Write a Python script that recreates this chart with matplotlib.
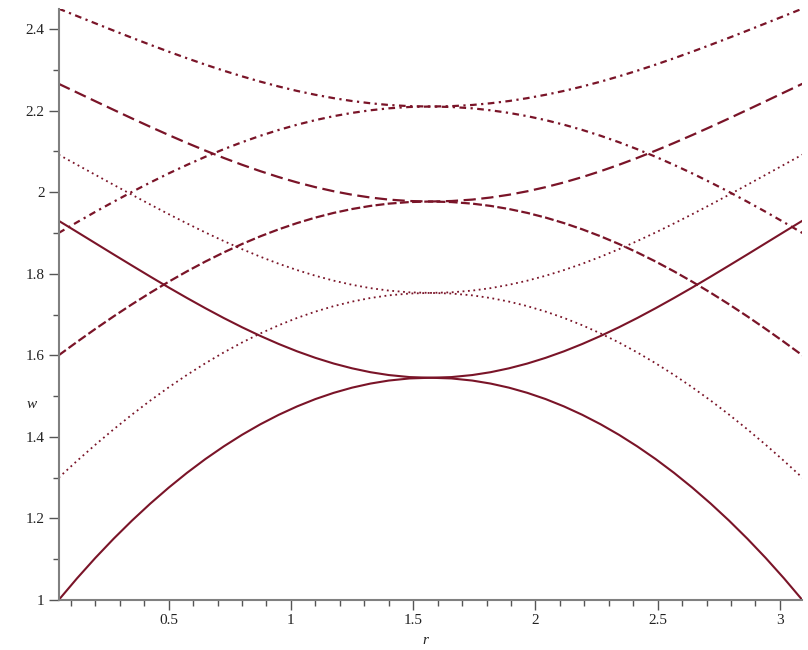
import matplotlib.pyplot as plt
from matplotlib.ticker import MultipleLocator

# valores de r (simetricos em torno de pi/2)
r = [0.05, 0.125, 0.2, 0.275, 0.35, 0.425, 0.5, 0.575, 0.65, 0.725, 0.8,
     0.875, 0.95, 1.025, 1.1, 1.175, 1.25, 1.325, 1.4, 1.4854, 1.5708,
     1.6562, 1.7416, 1.8166, 1.8916, 1.9666, 2.0416, 2.1166, 2.1916, 2.2666, 2.3416,
     2.4166, 2.4916, 2.5666, 2.6416, 2.7166, 2.7916, 2.8666, 2.9416, 3.0166, 3.0916]

# par 1 (continuo)
w1_baixo = [1.0000, 1.0531, 1.1032, 1.1504, 1.1948, 1.2365, 1.2755, 1.3119, 1.3456, 1.3766,
            1.4051, 1.4309, 1.4541, 1.4747, 1.4927, 1.5080, 1.5207, 1.5307, 1.5381, 1.5433,
            1.5450,
            1.5433, 1.5381, 1.5307, 1.5207, 1.5080, 1.4927, 1.4747, 1.4541, 1.4309, 1.4051,
            1.3766, 1.3456, 1.3119, 1.2755, 1.2365, 1.1948, 1.1504, 1.1032, 1.0531, 1.0000]
w1_cima = [1.9299, 1.9025, 1.8749, 1.8473, 1.8200, 1.7929, 1.7663, 1.7405, 1.7155, 1.6915,
           1.6688, 1.6475, 1.6278, 1.6098, 1.5938, 1.5798, 1.5681, 1.5586, 1.5516, 1.5466,
           1.5450,
           1.5466, 1.5516, 1.5586, 1.5681, 1.5798, 1.5938, 1.6098, 1.6278, 1.6475, 1.6688,
           1.6915, 1.7155, 1.7405, 1.7663, 1.7929, 1.8200, 1.8473, 1.8749, 1.9025, 1.9299]

# par 2 (pontilhado)
w2_baixo = [1.2999, 1.3411, 1.3807, 1.4186, 1.4547, 1.4891, 1.5215, 1.5520, 1.5805, 1.6070,
            1.6314, 1.6536, 1.6737, 1.6916, 1.7072, 1.7206, 1.7317, 1.7405, 1.7470, 1.7515,
            1.7530,
            1.7515, 1.7470, 1.7405, 1.7317, 1.7206, 1.7072, 1.6916, 1.6737, 1.6536, 1.6314,
            1.6070, 1.5805, 1.5520, 1.5215, 1.4891, 1.4547, 1.4186, 1.3807, 1.3411, 1.2999]
w2_cima = [2.0920, 2.0673, 2.0426, 2.0180, 1.9936, 1.9696, 1.9461, 1.9233, 1.9012, 1.8802,
           1.8603, 1.8417, 1.8245, 1.8090, 1.7951, 1.7830, 1.7729, 1.7647, 1.7587, 1.7544,
           1.7530,
           1.7544, 1.7587, 1.7647, 1.7729, 1.7830, 1.7951, 1.8090, 1.8245, 1.8417, 1.8603,
           1.8802, 1.9012, 1.9233, 1.9461, 1.9696, 1.9936, 2.0180, 2.0426, 2.0673, 2.0920]

# par 3 (tracejado)
w3_baixo = [1.6000, 1.6328, 1.6647, 1.6955, 1.7251, 1.7534, 1.7804, 1.8059, 1.8299, 1.8522,
            1.8729, 1.8918, 1.9089, 1.9242, 1.9377, 1.9492, 1.9587, 1.9663, 1.9719, 1.9758,
            1.9771,
            1.9758, 1.9719, 1.9663, 1.9587, 1.9492, 1.9377, 1.9242, 1.9089, 1.8918, 1.8729,
            1.8522, 1.8299, 1.8059, 1.7804, 1.7534, 1.7251, 1.6955, 1.6647, 1.6328, 1.6000]
w3_cima = [2.2657, 2.2444, 2.2230, 2.2018, 2.1808, 2.1602, 2.1401, 2.1206, 2.1019, 2.0840,
           2.0672, 2.0515, 2.0370, 2.0239, 2.0123, 2.0022, 1.9937, 1.9869, 1.9818, 1.9783,
           1.9771,
           1.9783, 1.9818, 1.9869, 1.9937, 2.0022, 2.0123, 2.0239, 2.0370, 2.0515, 2.0672,
           2.0840, 2.1019, 2.1206, 2.1401, 2.1602, 2.1808, 2.2018, 2.2230, 2.2444, 2.2657]

# par 4 (traco-ponto)
w4_baixo = [1.9000, 1.9262, 1.9518, 1.9766, 2.0007, 2.0238, 2.0460, 2.0669, 2.0868, 2.1053,
            2.1225, 2.1383, 2.1526, 2.1654, 2.1767, 2.1864, 2.1944, 2.2008, 2.2056, 2.2089,
            2.2100,
            2.2089, 2.2056, 2.2008, 2.1944, 2.1864, 2.1767, 2.1654, 2.1526, 2.1383, 2.1225,
            2.1053, 2.0868, 2.0669, 2.0460, 2.0238, 2.0007, 1.9766, 1.9518, 1.9262, 1.9000]
w4_cima = [2.4500, 2.4319, 2.4140, 2.3961, 2.3785, 2.3613, 2.3445, 2.3283, 2.3127, 2.2979,
           2.2840, 2.2710, 2.2591, 2.2483, 2.2388, 2.2305, 2.2235, 2.2180, 2.2138, 2.2109,
           2.2100,
           2.2109, 2.2138, 2.2180, 2.2235, 2.2305, 2.2388, 2.2483, 2.2591, 2.2710, 2.2840,
           2.2979, 2.3127, 2.3283, 2.3445, 2.3613, 2.3785, 2.3961, 2.4140, 2.4319, 2.4500]

cor = "#7a1428"
traco_ponto = (0, (3, 2, 1, 2))

fig = plt.figure(figsize=(8.08, 6.5), dpi=100)
ax = fig.add_axes([0.0726, 0.0769, 0.9204, 0.9098])

ax.plot(r, w1_baixo, color=cor, lw=1.5)
ax.plot(r, w1_cima, color=cor, lw=1.5)
ax.plot(r, w2_baixo, color=cor, lw=1.3, linestyle=(0, (1, 2)))
ax.plot(r, w2_cima, color=cor, lw=1.3, linestyle=(0, (1, 2)))
ax.plot(r, w3_baixo, color=cor, lw=1.6, linestyle=(0, (4, 1.5)))
ax.plot(r, w3_cima, color=cor, lw=1.6, linestyle=(0, (5.5, 2.5)))
ax.plot(r, w4_baixo, color=cor, lw=1.6, linestyle=traco_ponto)
ax.plot(r, w4_cima, color=cor, lw=1.6, linestyle=traco_ponto)

ax.set_xlim(0.05, 3.0916)
ax.set_ylim(1, 2.45)

# estilo de eixos parecido com o do Maple
for lado in ["top", "right"]:
    ax.spines[lado].set_visible(False)
for lado in ["left", "bottom"]:
    ax.spines[lado].set_color("#808080")
    ax.spines[lado].set_linewidth(1.5)

ax.xaxis.set_major_locator(MultipleLocator(0.5))
ax.xaxis.set_minor_locator(MultipleLocator(0.1))
ax.yaxis.set_major_locator(MultipleLocator(0.2))
ax.yaxis.set_minor_locator(MultipleLocator(0.1))
ax.tick_params(which="major", length=7, width=1, color="#555555",
               labelsize=11, labelcolor="#222222", pad=3)
ax.tick_params(which="minor", length=4, width=1, color="#555555")

ax.xaxis.set_major_formatter(plt.FuncFormatter(lambda v, p: f"{v:g}"))
ax.yaxis.set_major_formatter(plt.FuncFormatter(lambda v, p: f"{v:g}"))
for rotulo in ax.get_xticklabels() + ax.get_yticklabels():
    rotulo.set_family("Liberation Serif")

fig.text(32 / 808, 1 - 405 / 650, "w", family="Liberation Serif", style="italic",
         fontsize=11, ha="center", va="center", color="#222222")
fig.text(425 / 808, 1 - 640 / 650, "r", family="Liberation Serif", style="italic",
         fontsize=11, ha="center", va="center", color="#222222")

fig.savefig("out.png", dpi=100)
plt.close()
